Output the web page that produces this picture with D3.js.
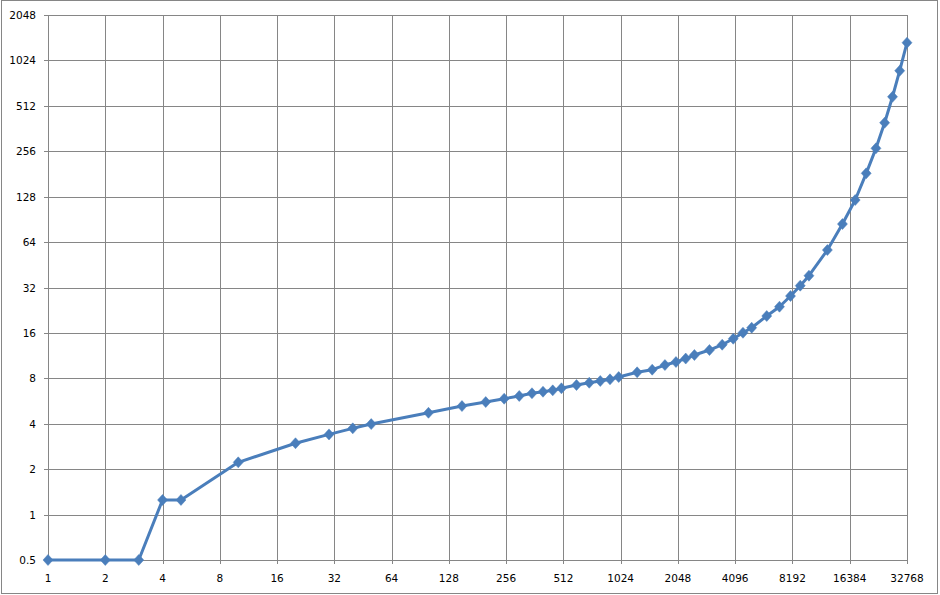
<!DOCTYPE html>
<html><head><meta charset="utf-8">
<script src="https://cdn.jsdelivr.net/npm/d3@7"></script>
<style>body{margin:0;background:#fff;}svg{display:block;}</style>
</head><body><svg id="c" width="940" height="595"></svg>
<script>
const xValues = [1,2,3,4,5,10,20,30,40,50,100,150,200,250,300,350,400,450,500,600,700,800,900,1000,1250,1500,1750,2000,2250,2500,3000,3500,4000,4500,5000,6000,7000,8000,9000,10000,12500,15000,17500,20000,22500,25000,27500,30000,32768];
const yValues = [0.5,0.5,0.5,1.25,1.25,2.22,2.97,3.4,3.73,3.98,4.73,5.24,5.57,5.86,6.11,6.37,6.52,6.66,6.87,7.22,7.48,7.68,7.88,8.16,8.77,9.13,9.8,10.26,10.82,11.42,12.32,13.36,14.64,16.04,17.32,20.71,23.87,28.09,32.9,38.3,56.7,84.3,121.6,182.8,267.6,395.7,588,875,1341];
const xTicks = [1,2,4,8,16,32,64,128,256,512,1024,2048,4096,8192,16384,32768];
const yTicks = [0.5,1,2,4,8,16,32,64,128,256,512,1024,2048];

const svg = d3.select("#c");
const L = 48, R = 907, T = 15, B = 560;
const x = d3.scaleLog().base(2).domain([1, 32768]).range([L, R]);
const y = d3.scaleLog().base(2).domain([0.5, 2048]).range([B, T]);
const grid = "#868686";

svg.append("rect").attr("x",1.5).attr("y",0.5).attr("width",936).attr("height",593)
  .attr("fill","#fff").attr("stroke",grid).attr("stroke-width",1);

// gridlines
svg.append("g").selectAll("line").data(xTicks).join("line")
  .attr("x1",d=>Math.round(x(d))+0.5).attr("x2",d=>Math.round(x(d))+0.5)
  .attr("y1",T).attr("y2",B+4).attr("stroke",grid).attr("stroke-width",1);
svg.append("g").selectAll("line").data(yTicks).join("line")
  .attr("y1",d=>Math.round(y(d))+0.5).attr("y2",d=>Math.round(y(d))+0.5)
  .attr("x1",L-4).attr("x2",R).attr("stroke",grid).attr("stroke-width",1);

// labels
const font = "DejaVu Sans, Verdana, sans-serif";
svg.append("g").selectAll("text").data(xTicks).join("text")
  .attr("x",d=>x(d)).attr("y",582).attr("text-anchor","middle")
  .attr("font-family",font).attr("font-size","10.5px").attr("fill","#000").text(d=>d);
svg.append("g").selectAll("text").data(yTicks).join("text")
  .attr("x",36).attr("y",d=>y(d)+4).attr("text-anchor","end")
  .attr("font-family",font).attr("font-size","10.5px").attr("fill","#000").text(d=>d);

const data = xValues.map((v,i)=>[v,yValues[i]]);
const blue = "#4a7ebb";
svg.append("path").datum(data)
  .attr("d", d3.line().x(d=>x(d[0])).y(d=>y(d[1])))
  .attr("fill","none").attr("stroke",blue).attr("stroke-width",3).attr("stroke-linejoin","round");
svg.append("g").selectAll("path").data(data).join("path")
  .attr("transform",d=>`translate(${x(d[0])},${y(d[1])})`)
  .attr("d","M0,-5.5L5,0L0,5.5L-5,0Z").attr("fill",blue).attr("stroke",blue).attr("stroke-width",0.5);
</script></body></html>
